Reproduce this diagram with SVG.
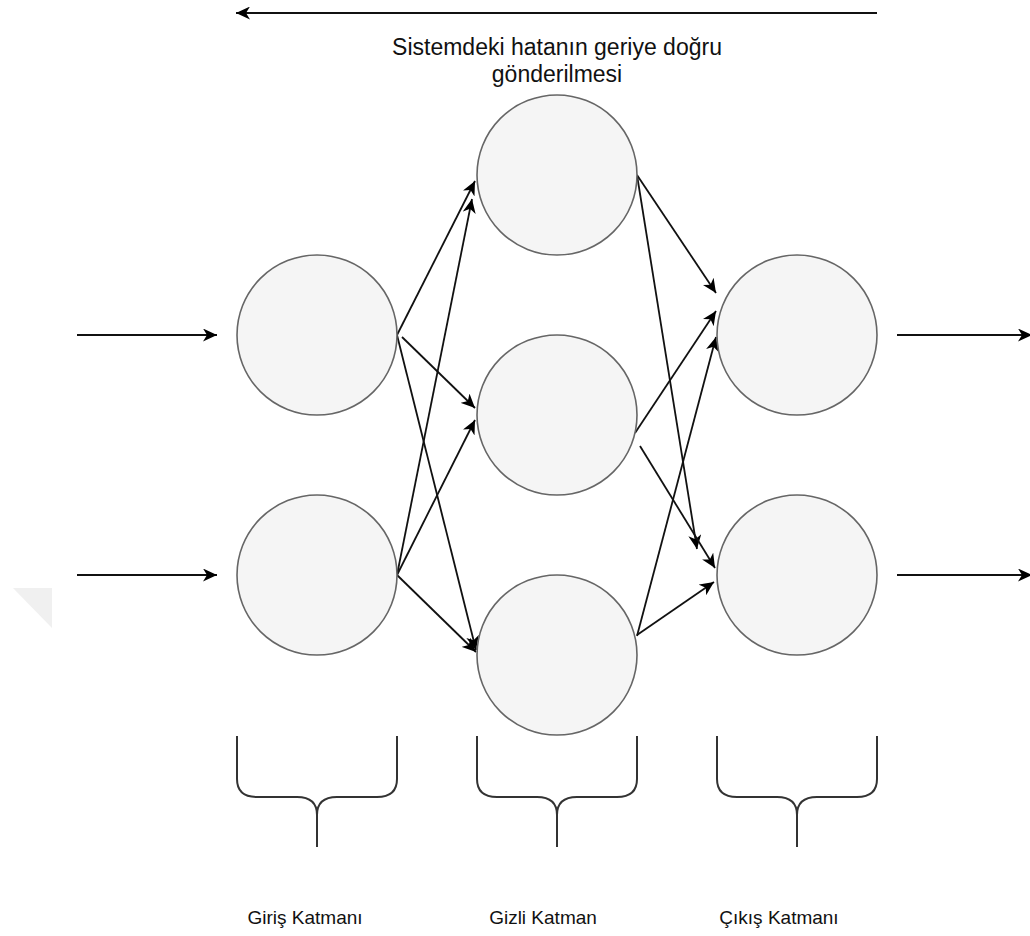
<svg xmlns="http://www.w3.org/2000/svg" width="1030" height="936" viewBox="0 0 1030 936">
  <style>
    .node { fill: #f5f5f5; stroke: #666666; stroke-width: 1.6; }
    .edge { fill: none; stroke: #111111; stroke-width: 1.8; marker-end: url(#arrow); }
    .brace { fill: none; stroke: #333333; stroke-width: 2; }
    .lbl { font-family: "Liberation Sans", Arial, sans-serif; fill: #111111; text-anchor: middle; }
  </style>
  <defs>
    <marker id="arrow" markerUnits="userSpaceOnUse" markerWidth="15" markerHeight="13" viewBox="0 0 15 13" refX="14" refY="6.5" orient="auto">
      <path d="M0,0 L14,6.5 L0,13 L4,6.5 Z" fill="#000000"/>
    </marker>
  </defs>
  <rect width="1030" height="936" fill="#ffffff"/>
  <polygon points="13,588 52,588 52,628" fill="#f0f0f0"/>

  <g id="connectors">
    <line class="edge" x1="877" y1="13" x2="236" y2="13"/>
    <line class="edge" x1="77" y1="335" x2="217" y2="335"/>
    <line class="edge" x1="77" y1="575" x2="217" y2="575"/>
    <line class="edge" x1="897" y1="335" x2="1032" y2="335"/>
    <line class="edge" x1="897" y1="575" x2="1032" y2="575"/>
    <line class="edge" x1="397" y1="335" x2="475" y2="181"/>
    <line class="edge" x1="402" y1="337" x2="475" y2="408"/>
    <line class="edge" x1="397" y1="335" x2="476" y2="650"/>
    <line class="edge" x1="397" y1="575" x2="472" y2="199"/>
    <line class="edge" x1="397" y1="575" x2="475" y2="420"/>
    <line class="edge" x1="397" y1="575" x2="476" y2="652"/>
    <line class="edge" x1="637" y1="175" x2="716" y2="293"/>
    <line class="edge" x1="637" y1="175" x2="697" y2="549"/>
    <line class="edge" x1="635" y1="433" x2="716" y2="311"/>
    <line class="edge" x1="640" y1="446" x2="715" y2="568"/>
    <line class="edge" x1="637" y1="636" x2="716" y2="337"/>
    <line class="edge" x1="637" y1="635" x2="714" y2="582"/>
  </g>

  <g id="input1"><circle class="node" cx="317" cy="335" r="80"/></g>
  <g id="input2"><circle class="node" cx="317" cy="575" r="80"/></g>
  <g id="hidden1"><circle class="node" cx="557" cy="175" r="80"/></g>
  <g id="hidden2"><circle class="node" cx="557" cy="415" r="80"/></g>
  <g id="hidden3"><circle class="node" cx="557" cy="655" r="80"/></g>
  <g id="output1"><circle class="node" cx="797" cy="335" r="80"/></g>
  <g id="output2"><circle class="node" cx="797" cy="575" r="80"/></g>

  <g id="brace1"><path class="brace" d="M237,736 V779 Q237,797 257,797 H297 Q317,797 317,815 Q317,797 337,797 H377 Q397,797 397,779 V736 M317,815 V847"/></g>
  <g id="brace2"><path class="brace" d="M477,736 V779 Q477,797 497,797 H537 Q557,797 557,815 Q557,797 577,797 H617 Q637,797 637,779 V736 M557,815 V847"/></g>
  <g id="brace3"><path class="brace" d="M717,736 V779 Q717,797 737,797 H777 Q797,797 797,815 Q797,797 817,797 H857 Q877,797 877,779 V736 M797,815 V847"/></g>

  <g id="title">
    <text class="lbl" x="557" y="55" font-size="23">Sistemdeki hatanın geriye doğru</text>
    <text class="lbl" x="557" y="82" font-size="23">gönderilmesi</text>
  </g>
  <g id="labels">
    <text class="lbl" x="305" y="924" font-size="19">Giriş Katmanı</text>
    <text class="lbl" x="543" y="924" font-size="19">Gizli Katman</text>
    <text class="lbl" x="779" y="924" font-size="19">Çıkış Katmanı</text>
  </g>
</svg>
